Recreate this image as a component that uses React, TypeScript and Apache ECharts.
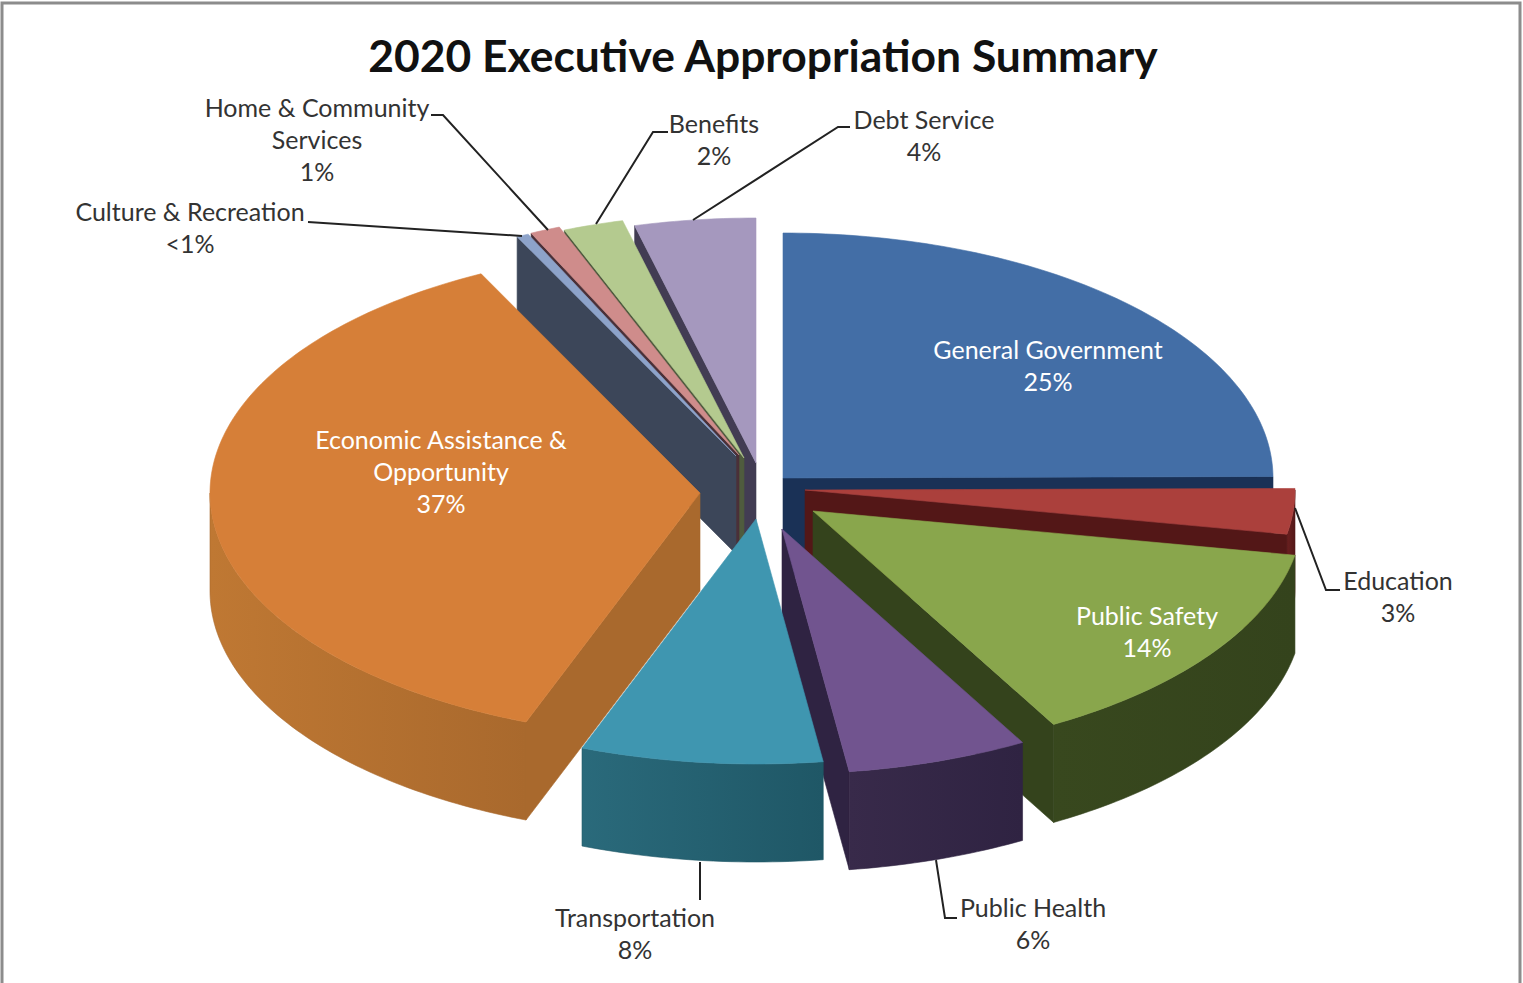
import React, { useEffect, useRef } from "react";
import * as echarts from "echarts";

// Appropriation shares, clockwise from twelve o'clock
const categories = [
  "General Government",
  "Education",
  "Public Safety",
  "Public Health",
  "Transportation",
  "Economic Assistance & Opportunity",
  "Culture & Recreation",
  "Home & Community Services",
  "Benefits",
  "Debt Service",
];
const shares = [25, 3, 14, 6, 8, 37, 0.4, 1, 2, 4];

// Multi-line captions for each wedge, same order as categories
const captionNames = [
  "General Government",
  "Education",
  "Public Safety",
  "Public Health",
  "Transportation",
  "Economic Assistance &\nOpportunity",
  "Culture & Recreation",
  "Home & Community\nServices",
  "Benefits",
  "Debt Service",
];

const topColors = ["#436EA6", "#AB403C", "#89A64C", "#71548F", "#3F96B0", "#D67F38", "#8DA3CA", "#CF8C8B", "#B4CA8F", "#A598BE"];
const sideColors = ["#1A3156", "#531717", "#34431C", "#2F2342", "#1F5766", "#A9692D", "#3C4659", "#4A3038", "#4F5B3E", "#423C53"];
const rimColors = ["#25426F", "#6A2020", "#38481E", "#382A4A", "#2A6A7B", "#BF7833", "#3C4659", "#4A3038", "#4F5B3E", "#423C53"];

// Projection of the pie: ellipse radii and extrusion height
const RX = 490;
const RY = 245;
const DEPTH = 98;
const CENTER = [760, 490];

// How far each wedge is pulled out of the pie, in pixels
const explode = [
  [23, -12],
  [45, 0],
  [53, 21],
  [22, 39],
  [-4, 29],
  [-60, 3],
  [-24, -34],
  [-21, -35],
  [-16, -32],
  [-4, -27],
];

const captionAnchors = [
  [1048, 349],
  [1398, 580],
  [1147, 615],
  [1033, 907],
  [635, 917],
  [441, 439],
  [190, 211],
  [317, 107],
  [714, 123],
  [924, 119],
];
const captionColors = ["#fff", "#333", "#fff", "#333", "#333", "#fff", "#333", "#333", "#333", "#333"];
const leaders = [
  null,
  [[1295, 508], [1326, 590], [1340, 590]],
  null,
  [[936, 860], [945, 918], [957, 918]],
  [[700, 862], [700, 900]],
  null,
  [[308, 222], [522, 236]],
  [[431, 115], [443, 115], [548, 230]],
  [[668, 132], [653, 132], [596, 224]],
  [[850, 127], [838, 127], [693, 220]],
];

const total = shares.reduce((a, b) => a + b, 0);
const DEG = Math.PI / 180;

function percentText(v: number) {
  return v < 1 ? "<1%" : `${Math.round(v)}%`;
}

function wedgeAngles(index: number) {
  const before = shares.slice(0, index).reduce((a, b) => a + b, 0);
  return [(before / total) * 360, ((before + shares[index]) / total) * 360];
}

function rimPoint(apex: number[], deg: number, drop = 0) {
  return [apex[0] + RX * Math.sin(deg * DEG), apex[1] - RY * Math.cos(deg * DEG) + drop];
}

function arcPoints(apex: number[], from: number, to: number, drop = 0) {
  const pts: number[][] = [];
  const steps = Math.max(2, Math.ceil(Math.abs(to - from)));
  for (let k = 0; k <= steps; k++) pts.push(rimPoint(apex, from + ((to - from) * k) / steps, drop));
  return pts;
}

function renderWedge(_params: any, api: any) {
  const index = api.value(1);
  const [a, b] = wedgeAngles(index);
  const apex = [CENTER[0] + explode[index][0], CENTER[1] + explode[index][1]];
  const children: any[] = [];
  const flat = (points: number[][], fill: any) => ({
    type: "polygon",
    shape: { points },
    style: { fill, stroke: typeof fill === "string" ? fill : sideColors[index], lineWidth: 0.6 },
  });

  // Cut face on the trailing edge, when it turns toward the viewer
  if (Math.sin(b * DEG) > 0) {
    const p = rimPoint(apex, b);
    children.push(flat([apex, p, [p[0], p[1] + DEPTH], [apex[0], apex[1] + DEPTH]], sideColors[index]));
  }
  // Cut face on the leading edge
  if (Math.sin(a * DEG) < 0) {
    const p = rimPoint(apex, a);
    children.push(flat([apex, p, [p[0], p[1] + DEPTH], [apex[0], apex[1] + DEPTH]], sideColors[index]));
  }
  // Outer rim, only the part on the near half of the ellipse, lit from the left
  const from = Math.max(a, 90);
  const to = Math.min(b, 270);
  if (to > from) {
    const upper = arcPoints(apex, from, to);
    const lower = arcPoints(apex, to, from, DEPTH);
    const shade = new echarts.graphic.LinearGradient(0, 0, 1, 0, [
      { offset: 0, color: rimColors[index] },
      { offset: 1, color: sideColors[index] },
    ]);
    children.push(flat(upper.concat(lower), shade));
  }
  // Top face
  children.push(flat([apex, ...arcPoints(apex, a, b)], topColors[index]));
  return { type: "group", children };
}

// Far wedges are painted first so that nearer ones overlap them
const paintOrder = categories
  .map((_, i) => i)
  .sort((p, q) => {
    const mid = (i: number) => {
      const [a, b] = wedgeAngles(i);
      return -Math.cos(((a + b) / 2) * DEG);
    };
    return mid(p) - mid(q);
  });

export default function App() {
  const ref = useRef<HTMLDivElement>(null);

  useEffect(() => {
    document.body.style.margin = "0";
    const chart = echarts.init(ref.current as HTMLDivElement, undefined, { renderer: "svg" });

    const captions = categories.map((_, i) => ({
      type: "text",
      z: 100,
      x: captionAnchors[i][0],
      y: captionAnchors[i][1] - 16,
      style: {
        text: `${captionNames[i]}\n${percentText(shares[i])}`,
        fill: captionColors[i],
        font: "25px Lato",
        lineHeight: 32,
        align: "center",
        verticalAlign: "top",
      },
    }));
    const leaderLines = leaders
      .filter((l) => l)
      .map((points) => ({
        type: "polyline",
        z: 99,
        shape: { points },
        style: { stroke: "#222", lineWidth: 2, fill: "none" },
      }));

    chart.setOption({
      animation: false,
      backgroundColor: "#fff",
      title: {
        text: "2020 Executive Appropriation Summary",
        left: 758,
        top: 27,
        textAlign: "center",
        textStyle: { fontFamily: "Lato", fontWeight: "bold", fontSize: 44.4, color: "#111" },
      },
      graphic: [
        {
          type: "rect",
          z: 98,
          shape: { x: 2, y: 3, width: 1518, height: 1000 },
          style: { fill: "none", stroke: "#8c8c8c", lineWidth: 3 },
        },
        ...leaderLines,
        ...captions,
      ],
      series: [
        {
          type: "custom",
          coordinateSystem: "none",
          renderItem: renderWedge,
          data: paintOrder.map((i) => ({ name: categories[i], value: [shares[i], i] })),
        },
      ],
    });

    return () => chart.dispose();
  }, []);

  return <div ref={ref} style={{ position: "fixed", left: 0, top: 0, width: 1523, height: 983 }} />;
}
